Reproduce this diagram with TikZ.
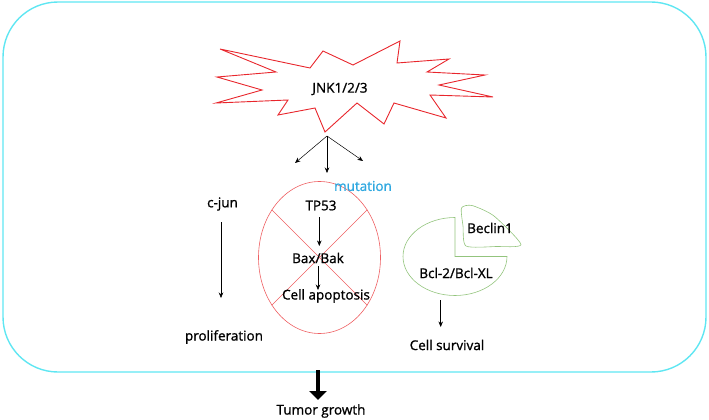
\documentclass[tikz,border=0pt]{standalone}
\usepackage{fontspec}
\setmainfont{Open Sans}[FakeBold=1.1]
\usetikzlibrary{arrows.meta,shapes.geometric}
\definecolor{boxcyan}{HTML}{5FE6F2}
\definecolor{burstred}{HTML}{E8262C}
\definecolor{xred}{HTML}{EE5F62}
\definecolor{leafgreen}{HTML}{93C47D}
\definecolor{mutblue}{HTML}{2FA8E0}
\tikzset{
  lbl/.style={font=\fontsize{13.5}{15}\selectfont, inner sep=0pt},
  arr/.style={-{Stealth[length=5.5pt,width=4.5pt]}, line width=0.5pt}
}
\begin{document}
\begin{tikzpicture}[x=1pt,y=-1pt]
            \useasboundingbox (0,0) rectangle (709,420);
            % outer cell
            \draw[boxcyan, line width=1.4pt, rounded corners=55pt] (3,2) rectangle (706,372);
            % JNK burst
            \draw[burstred, line width=0.9pt, line join=miter]
              (220,49) -- (310,68) -- (323,51) -- (353,65) -- (400,41) -- (397,63)
              -- (449,59) -- (427,72) -- (485,75) -- (439,85) -- (493,97) -- (430,95)
              -- (446,118) -- (394,103) -- (384,124) -- (357,103) -- (325,132)
              -- (315,108) -- (278,115) -- (288,100) -- (216,103) -- (262,90)
              -- (217,77) -- (276,72) -- cycle;
            \node [lbl] (JNK) at (340,89) {JNK1/2/3};
            \coordinate (JNKfoot) at (327,136);
            \coordinate (splitL) at (295,163);
            \coordinate (splitM) at (327,173);
            \coordinate (splitR) at (363,161);
            \path[arr] (JNKfoot) edge (splitL);
            \path[arr] (JNKfoot) edge (splitM);
            \path[arr] (JNKfoot) edge (splitR);
            % c-jun branch
            \node [lbl] (cjun) at (222.5,204) {c-jun};
            \node [lbl] (prolif) at (224,337) {proliferation};
            \coordinate (cjunOut) at (221,222);
            \coordinate (prolifIn) at (221,298);
            \path[arr] (cjunOut) edge (prolifIn);
            % TP53 branch, crossed out
            \node [xred, draw, ellipse, minimum width=122pt, minimum height=152pt, inner sep=0pt, line width=0.6pt] (mutEll) at (319.5,257.5) {};
            \draw[xred, line width=0.6pt] (mutEll.45) -- (mutEll.225);
            \draw[xred, line width=0.6pt] (mutEll.135) -- (mutEll.315);
            \node [lbl, mutblue] (mut) at (363,186) {mutation};
            \node [lbl] (TP53) at (321,205.5) {TP53};
            \node [lbl] (BaxBak) at (318,258) {Bax/Bak};
            \node [lbl] (apop) at (326,296) {Cell apoptosis};
            \coordinate (tpOut) at (319.3,217);
            \coordinate (baxIn) at (319.3,246);
            \coordinate (baxOut) at (318,266);
            \coordinate (apopIn) at (318,290);
            \path[arr] (tpOut) edge (baxIn);
            \path[arr] (baxOut) edge (apopIn);
            % Bcl-2 / Beclin1 branch
            \draw[leafgreen, line width=0.6pt] (455,256.5) -- (455,217.5) arc[start angle=270, end angle=0, x radius=52, y radius=39] -- cycle;
            \draw[leafgreen, line width=0.6pt] plot[smooth cycle, tension=0.4] coordinates
              {(461.5,208) (472,205.5) (494,216) (521,244.5) (496,246.5) (466,246) (463,226)};
            \node [lbl] (Beclin) at (490,228) {Beclin1};
            \node [lbl] (Bcl) at (456,273) {Bcl-2/Bcl-XL};
            \node [lbl] (surv) at (447,345) {Cell survival};
            \coordinate (bclOut) at (440.7,300);
            \coordinate (survIn) at (440.7,327);
            \path[arr] (bclOut) edge (survIn);
            % outcome
            \node [lbl] (tumor) at (321,411) {Tumor growth};
            \coordinate (cellEdge) at (318,370);
            \coordinate (tumorIn) at (318,400);
            \draw[line width=4.5pt, -{Triangle[length=9pt,width=17pt]}] (cellEdge) -- (tumorIn);
        \end{tikzpicture}
\end{document}
